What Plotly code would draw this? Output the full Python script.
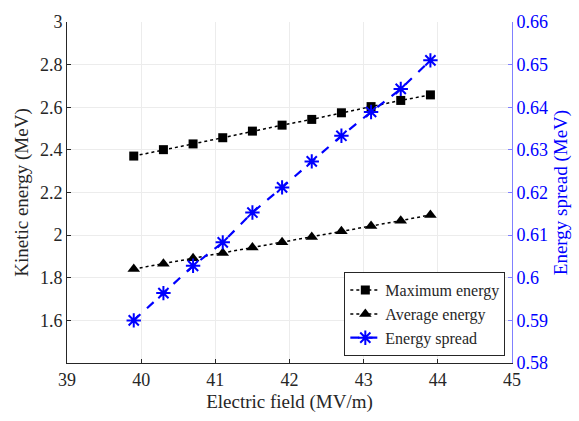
import plotly.graph_objects as go

field = [39.9, 40.3, 40.7, 41.1, 41.5, 41.9, 42.3, 42.7, 43.1, 43.5, 43.9]
max_energy = [2.371, 2.401, 2.428, 2.457, 2.488, 2.516, 2.543, 2.574, 2.603, 2.632, 2.658]
avg_energy = [1.841, 1.866, 1.891, 1.916, 1.942, 1.967, 1.991, 2.018, 2.043, 2.068, 2.095]
energy_spread = [0.590, 0.5964, 0.6028, 0.6083, 0.6153, 0.6212, 0.6273, 0.6333, 0.6389, 0.6443, 0.651]

x_ticks = [39, 40, 41, 42, 43, 44, 45]
left_ticks = [1.6, 1.8, 2.0, 2.2, 2.4, 2.6, 2.8, 3.0]
left_labels = ["1.6", "1.8", "2", "2.2", "2.4", "2.6", "2.8", "3"]
right_ticks = [0.58, 0.59, 0.60, 0.61, 0.62, 0.63, 0.64, 0.65, 0.66]
right_labels = ["0.58", "0.59", "0.6", "0.61", "0.62", "0.63", "0.64", "0.65", "0.66"]

FONT = "Liberation Serif"
BLUE = "#0000ff"
DARK = "#262626"

fig = go.Figure()
fig.add_trace(go.Scatter(
    x=field, y=max_energy, name="Maximum energy", mode="lines+markers",
    line=dict(color="black", width=1.5, dash="dot"),
    marker=dict(symbol="square", size=9, color="black"),
))
fig.add_trace(go.Scatter(
    x=field, y=avg_energy, name="Average energy", mode="lines+markers",
    line=dict(color="black", width=1.5, dash="dot"),
    marker=dict(symbol="triangle-up", size=11, color="black"),
))
fig.add_trace(go.Scatter(
    x=field, y=energy_spread, name="Energy spread", mode="lines+markers", yaxis="y2",
    line=dict(color=BLUE, width=2.2, dash="dash"),
    marker=dict(symbol="asterisk-open", size=12, color=BLUE, line=dict(color=BLUE, width=2)),
))

fig.update_layout(
    width=579, height=421,
    margin=dict(l=67, r=67, t=14, b=56),
    paper_bgcolor="white", plot_bgcolor="white",
    font=dict(family=FONT, size=18, color=DARK),
    showlegend=True,
    legend=dict(
        x=0.985, y=0.02, xanchor="right", yanchor="bottom",
        bgcolor="white", bordercolor=DARK, borderwidth=1,
        font=dict(family=FONT, size=16, color=DARK),
        tracegroupgap=0, itemwidth=30,
    ),
    xaxis=dict(
        range=[39, 45], tickvals=x_ticks, ticktext=[str(t) for t in x_ticks],
        showgrid=True, gridcolor="#ececec", gridwidth=1,
        showline=True, linecolor=DARK, linewidth=1,
        ticks="inside", ticklen=4, tickcolor=DARK,
        zeroline=False,
        title=dict(text="Electric field (MV/m)", font=dict(family=FONT, size=19, color=DARK), standoff=6),
        tickfont=dict(family=FONT, size=18, color=DARK),
    ),
    yaxis=dict(
        range=[1.4, 3.0], tickvals=left_ticks, ticktext=left_labels,
        showgrid=True, gridcolor="#ececec", gridwidth=1,
        showline=True, linecolor=DARK, linewidth=1,
        ticks="inside", ticklen=4, tickcolor=DARK,
        zeroline=False,
        title=dict(text="Kinetic energy (MeV)", font=dict(family=FONT, size=19, color=DARK), standoff=6),
        tickfont=dict(family=FONT, size=18, color=DARK),
    ),
    yaxis2=dict(
        range=[0.58, 0.66], tickvals=right_ticks, ticktext=right_labels,
        overlaying="y", side="right",
        showgrid=False,
        showline=True, linecolor="#8080ff", linewidth=1,
        ticks="inside", ticklen=4, tickcolor="#8080ff",
        zeroline=False,
        title=dict(text="Energy spread (MeV)", font=dict(family=FONT, size=19, color=BLUE), standoff=6),
        tickfont=dict(family=FONT, size=18, color=BLUE),
    ),
)

fig.write_html("out.html")
